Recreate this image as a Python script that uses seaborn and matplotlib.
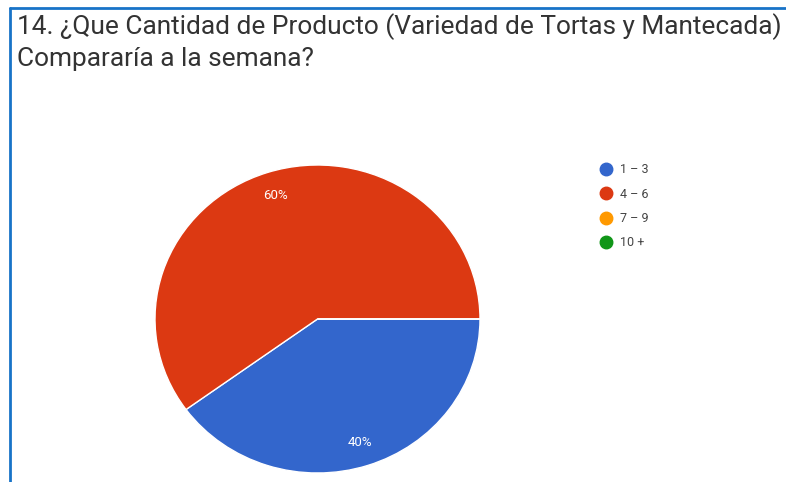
import matplotlib
matplotlib.use("Agg")
import matplotlib.pyplot as plt
from matplotlib.lines import Line2D
import seaborn as sns

# Survey answers: weekly quantity of product bought
categories = ["1 – 3", "4 – 6", "7 – 9", "10 +"]
shares = [40, 60, 0, 0]
colors = ["#3366CC", "#DC3912", "#FF9900", "#109618"]
title_lines = ["14. ¿Que Cantidad de Producto (Variedad de Tortas y Mantecada)",
               "Compararía a la semana?"]

sns.set_theme(style="white")
plt.rcParams["font.family"] = ["Roboto", "DejaVu Sans"]

W, H = 786, 482
fig = plt.figure(figsize=(W / 100, H / 100), dpi=100)
fig.patch.set_facecolor("white")

# Pie axes placed in pixel terms (slightly wider than tall)
cx, cy, rx, ry = 317.5, 319, 162.5, 154
ax = fig.add_axes([(cx - rx) / W, (H - cy - ry) / H, 2 * rx / W, 2 * ry / H])

palette = sns.color_palette(colors)
wedges, texts, autotexts = ax.pie(
    shares,
    colors=palette,
    startangle=0,
    counterclock=False,
    radius=1,
    autopct=lambda p: f"{p:.0f}%" if p > 0 else "",
    pctdistance=0.84,
    wedgeprops=dict(edgecolor="white", linewidth=1.0),
    textprops=dict(color="white", fontsize=9.5),
)
ax.set_aspect("auto")
ax.set_xlim(-1, 1)
ax.set_ylim(-1, 1)
ax.axis("off")

# Title
fig.text(17 / W, 1 - 34 / H, title_lines[0], fontsize=18.95, color="#333333",
         ha="left", va="baseline")
fig.text(17 / W, 1 - 66 / H, title_lines[1], fontsize=18.95, color="#333333",
         ha="left", va="baseline")

# Legend with round markers
handles = [Line2D([0], [0], marker="o", linestyle="none", markersize=9,
                  markerfacecolor=c, markeredgecolor=c) for c in palette]
fig.legend(handles, categories, loc="upper left",
           bbox_to_anchor=(593 / W, 1 - 158 / H), frameon=False,
           fontsize=9, labelcolor="#444444", handletextpad=0.55,
           labelspacing=0.92, handlelength=1.2, borderaxespad=0)

# Blue frame along the top and left edges
fig.add_artist(Line2D([9.5 / W, 1], [1 - 7.5 / H, 1 - 7.5 / H],
                      transform=fig.transFigure, color="#1873C8", lw=2))
fig.add_artist(Line2D([9.5 / W, 9.5 / W], [0, 1 - 7.5 / H],
                      transform=fig.transFigure, color="#1873C8", lw=2))

fig.savefig("out.png", dpi=100, facecolor="white")
